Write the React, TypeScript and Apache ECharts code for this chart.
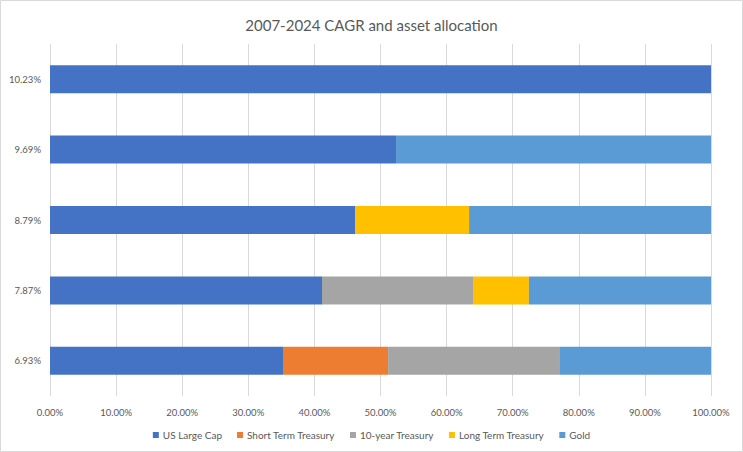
import React, { useEffect, useRef } from "react";
import * as echarts from "echarts";

// Portfolio CAGR (2007-2024), bottom to top
const categories = ["6.93%", "7.87%", "8.79%", "9.69%", "10.23%"];

// Allocation weights in percent for each portfolio
const usLargeCap = [35.25, 41.15, 46.2, 52.35, 100];
const shortTermTreasury = [15.9, 0, 0, 0, 0];
const tenYearTreasury = [26.0, 22.85, 0, 0, 0];
const longTermTreasury = [0, 8.45, 17.2, 0, 0];
const gold = [22.85, 27.55, 36.6, 47.65, 0];

const seriesNames = [
  "US Large Cap",
  "Short Term Treasury",
  "10-year Treasury",
  "Long Term Treasury",
  "Gold",
];
const seriesData = [usLargeCap, shortTermTreasury, tenYearTreasury, longTermTreasury, gold];
const colors = ["#4472C4", "#ED7D31", "#A5A5A5", "#FFC000", "#5B9BD5"];

const FONT = "Lato, 'Open Sans', sans-serif";

export default function App() {
  const ref = useRef<HTMLDivElement>(null);

  useEffect(() => {
    if (!ref.current) return;
    const chart = echarts.init(ref.current, undefined, { renderer: "svg" });
    chart.setOption({
      animation: false,
      backgroundColor: "#ffffff",
      color: colors,
      textStyle: { fontFamily: FONT },
      title: {
        text: "2007-2024 CAGR and asset allocation",
        left: "center",
        top: 12,
        textStyle: {
          fontFamily: FONT,
          fontSize: 15,
          fontWeight: "normal",
          color: "#595959",
        },
      },
      graphic: [
        {
          type: "rect",
          shape: { x: 0.5, y: 0.5, width: 742, height: 451 },
          style: { fill: "none", stroke: "#d9d9d9", lineWidth: 1 },
          silent: true,
        },
      ],
      legend: {
        bottom: 7,
        left: "center",
        itemWidth: 6,
        itemHeight: 6,
        itemGap: 15,
        icon: "rect",
        textStyle: { fontFamily: FONT, fontSize: 10, color: "#595959", padding: [0, 0, 0, -1] },
        data: seriesNames,
      },
      grid: { left: 50, right: 32, top: 44, bottom: 56, containLabel: false },
      xAxis: {
        type: "value",
        min: 0,
        max: 100,
        interval: 10,
        axisLine: { show: false },
        axisTick: { show: false },
        splitLine: { show: true, lineStyle: { color: "#d9d9d9", width: 1 } },
        axisLabel: {
          formatter: (v: number) => v.toFixed(2) + "%",
          fontFamily: FONT,
          fontSize: 9.5,
          color: "#595959",
          margin: 11,
        },
      },
      yAxis: {
        type: "category",
        data: categories,
        axisLine: { show: false },
        axisTick: { show: false },
        splitLine: { show: false },
        axisLabel: {
          fontFamily: FONT,
          fontSize: 9.5,
          color: "#595959",
          margin: 9,
        },
      },
      series: seriesNames.map((name, i) => ({
        name,
        type: "bar",
        stack: "total",
        barWidth: 28,
        data: seriesData[i],
        itemStyle: { color: colors[i] },
      })),
    });
    return () => chart.dispose();
  }, []);

  return (
    <div
      ref={ref}
      style={{ position: "fixed", left: 0, top: 0, width: 743, height: 452 }}
    />
  );
}
